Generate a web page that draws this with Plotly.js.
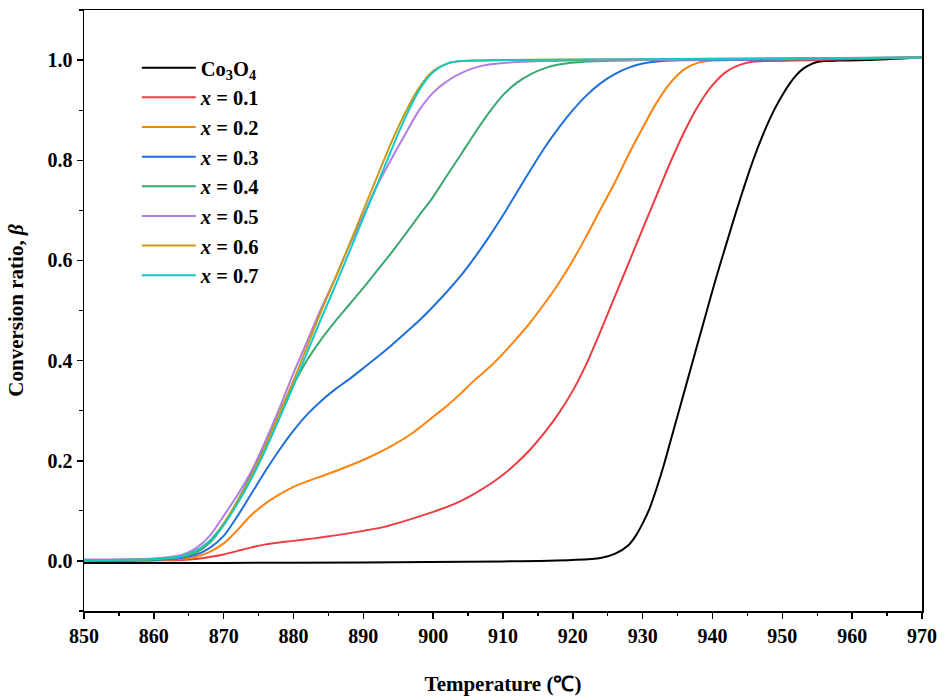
<!DOCTYPE html>
<html>
<head>
<meta charset="utf-8">
<script src="https://cdn.plot.ly/plotly-3.0.1.min.js"></script>
<style>body{margin:0;padding:0;background:#fff;}#chart{width:947px;height:700px;}</style>
</head>
<body>
<div id="chart"></div>
<script>
// Co3O4
const tCo = [850, 870, 890, 910, 920, 924, 926, 928, 929, 930, 931, 932, 933, 934, 935, 936, 937, 938, 939, 940, 941, 942, 943, 944, 945, 946, 947, 948, 949, 950, 951, 952, 953, 954, 955, 956, 958, 962, 970];
const bCo = [-0.004, -0.004, -0.003, -0.001, 0.002, 0.006, 0.014, 0.032, 0.05, 0.075, 0.105, 0.145, 0.19, 0.24, 0.29, 0.34, 0.39, 0.44, 0.49, 0.54, 0.588, 0.634, 0.68, 0.724, 0.767, 0.807, 0.843, 0.876, 0.905, 0.93, 0.952, 0.97, 0.983, 0.991, 0.996, 0.998, 0.999, 1.0, 1.005];
// x = 0.1
const t01 = [850, 860, 864, 866, 868, 870, 872, 874, 876, 878, 880, 883, 886, 890, 893, 896, 900, 902, 904, 906, 908, 910, 912, 914, 916, 918, 920, 922, 924, 926, 928, 930, 932, 934, 936, 938, 940, 942, 944, 946, 955, 970];
const b01 = [0.0, 0.001, 0.002, 0.004, 0.008, 0.013, 0.02, 0.027, 0.033, 0.037, 0.04, 0.045, 0.051, 0.06, 0.068, 0.08, 0.098, 0.108, 0.12, 0.135, 0.152, 0.172, 0.196, 0.224, 0.257, 0.295, 0.34, 0.395, 0.46, 0.527, 0.595, 0.663, 0.73, 0.797, 0.858, 0.91, 0.95, 0.977, 0.991, 0.997, 1.0, 1.005];
// x = 0.2
const t02 = [850, 860, 864, 866, 868, 870, 872, 874, 876, 878, 880, 882, 885, 888, 891, 894, 897, 900, 902, 904, 906, 908, 910, 912, 914, 916, 918, 920, 922, 924, 926, 928, 930, 932, 934, 936, 938, 940, 950, 970];
const b02 = [0.0, 0.002, 0.004, 0.008, 0.018, 0.035, 0.062, 0.092, 0.115, 0.133, 0.148, 0.159, 0.174, 0.19, 0.208, 0.229, 0.255, 0.288, 0.31, 0.335, 0.362, 0.386, 0.414, 0.445, 0.478, 0.515, 0.555, 0.6, 0.65, 0.703, 0.755, 0.812, 0.865, 0.915, 0.955, 0.982, 0.995, 0.999, 1.001, 1.005];
// x = 0.3
const t03 = [850, 860, 864, 866, 868, 870, 872, 874, 876, 878, 880, 882, 884, 886, 888, 890, 892, 894, 896, 898, 900, 902, 904, 906, 908, 910, 912, 914, 916, 918, 920, 922, 924, 926, 928, 930, 934, 950, 970];
const b03 = [0.0, 0.002, 0.006, 0.012, 0.026, 0.05, 0.09, 0.135, 0.18, 0.222, 0.26, 0.293, 0.32, 0.343, 0.363, 0.385, 0.407, 0.43, 0.455, 0.48, 0.508, 0.538, 0.57, 0.607, 0.647, 0.69, 0.736, 0.782, 0.826, 0.865, 0.9, 0.93, 0.954, 0.972, 0.985, 0.993, 0.999, 1.001, 1.005];
// x = 0.4
const t04 = [850, 860, 864, 866, 868, 870, 872, 874, 876, 878, 880, 882, 884, 886, 888, 890, 892, 894, 896, 898, 900, 902, 904, 906, 908, 910, 912, 914, 916, 918, 922, 930, 970];
const b04 = [0.0, 0.003, 0.008, 0.016, 0.036, 0.072, 0.12, 0.175, 0.235, 0.295, 0.352, 0.402, 0.443, 0.479, 0.512, 0.545, 0.58, 0.615, 0.652, 0.69, 0.727, 0.77, 0.812, 0.855, 0.895, 0.93, 0.955, 0.972, 0.984, 0.991, 0.997, 1.0, 1.005];
// x = 0.5
const t05 = [850, 860, 864, 866, 868, 870, 872, 874, 876, 878, 880, 882, 884, 886, 888, 890, 892, 894, 896, 898, 900, 902, 904, 906, 908, 912, 920, 970];
const b05 = [0.003, 0.005, 0.012, 0.025, 0.05, 0.09, 0.132, 0.18, 0.24, 0.305, 0.375, 0.44, 0.505, 0.565, 0.63, 0.69, 0.75, 0.802, 0.852, 0.9, 0.935, 0.958, 0.974, 0.985, 0.991, 0.996, 0.999, 1.005];
// x = 0.6
const t06 = [850, 860, 864, 866, 868, 870, 872, 874, 876, 878, 880, 882, 884, 886, 888, 890, 892, 894, 896, 898, 900, 902, 904, 910, 970];
const b06 = [0.002, 0.004, 0.01, 0.02, 0.04, 0.075, 0.12, 0.17, 0.23, 0.295, 0.36, 0.43, 0.5, 0.565, 0.632, 0.7, 0.768, 0.835, 0.895, 0.945, 0.978, 0.993, 0.998, 1.0, 1.005];
// x = 0.7
const t07 = [850, 860, 864, 866, 868, 870, 872, 874, 876, 878, 880, 882, 884, 886, 888, 890, 892, 894, 896, 898, 900, 902, 904, 910, 970];
const b07 = [0.002, 0.004, 0.01, 0.02, 0.04, 0.072, 0.115, 0.165, 0.222, 0.285, 0.35, 0.418, 0.485, 0.55, 0.617, 0.685, 0.752, 0.82, 0.885, 0.94, 0.976, 0.993, 0.998, 1.0, 1.005];

const names = ['Co<sub>3</sub>O<sub>4</sub>', '<i>x</i> = 0.1', '<i>x</i> = 0.2', '<i>x</i> = 0.3', '<i>x</i> = 0.4', '<i>x</i> = 0.5', '<i>x</i> = 0.6', '<i>x</i> = 0.7'];
const colors = ['#000000', '#ee3d42', '#ff820e', '#1f6fdc', '#3aa870', '#b07ee4', '#cc9914', '#12c8c8'];
const xs = [tCo, t01, t02, t03, t04, t05, t06, t07];
const ys = [bCo, b01, b02, b03, b04, b05, b06, b07];

const traces = xs.map((x, i) => ({
  x: x, y: ys[i], type: 'scatter', mode: 'lines', name: names[i],
  line: {color: colors[i], width: 2, shape: 'spline', smoothing: 0.8}
}));

const fontFam = '"Liberation Serif", "Times New Roman", serif';
const layout = {
  width: 947, height: 700,
  margin: {l: 84, r: 25, t: 10, b: 89},
  paper_bgcolor: '#fff', plot_bgcolor: '#fff',
  font: {family: fontFam, color: '#000', size: 20, weight: 'bold'},
  showlegend: true,
  legend: {
    x: 0.063, y: 0.937, xanchor: 'left', yanchor: 'top',
    bgcolor: 'rgba(0,0,0,0)', borderwidth: 0,
    font: {family: fontFam, size: 20.5, color: '#000', weight: 'bold'},
    tracegroupgap: 0, itemwidth: 54
  },
  xaxis: {
    range: [850, 970], dtick: 10, tick0: 850,
    showgrid: false, zeroline: false,
    showline: true, linecolor: '#000', linewidth: 1.5, mirror: true,
    ticks: 'outside', ticklen: 6, tickwidth: 1.5, tickcolor: '#000',
    minor: {dtick: 5, ticks: 'outside', ticklen: 3.5, tickwidth: 1.2, tickcolor: '#000', showgrid: false},
    tickfont: {family: fontFam, size: 20, color: '#000', weight: 'bold'},
    title: {text: 'Temperature (℃)', font: {family: fontFam, size: 21, color: '#000', weight: 'bold'}, standoff: 31}
  },
  yaxis: {
    range: [-0.1, 1.1], dtick: 0.2, tick0: 0, tickformat: '.1f',
    showgrid: false, zeroline: false,
    showline: true, linecolor: '#000', linewidth: 1.5, mirror: true,
    ticks: 'outside', ticklen: 6, tickwidth: 1.5, tickcolor: '#000',
    minor: {dtick: 0.1, ticks: 'outside', ticklen: 3.5, tickwidth: 1.2, tickcolor: '#000', showgrid: false},
    tickfont: {family: fontFam, size: 20, color: '#000', weight: 'bold'},
    title: {text: 'Conversion ratio, <i>β</i>', font: {family: fontFam, size: 21, color: '#000', weight: 'bold'}, standoff: 18}
  }
};

Plotly.newPlot('chart', traces, layout, {displayModeBar: false, staticPlot: true});
</script>
</body>
</html>
